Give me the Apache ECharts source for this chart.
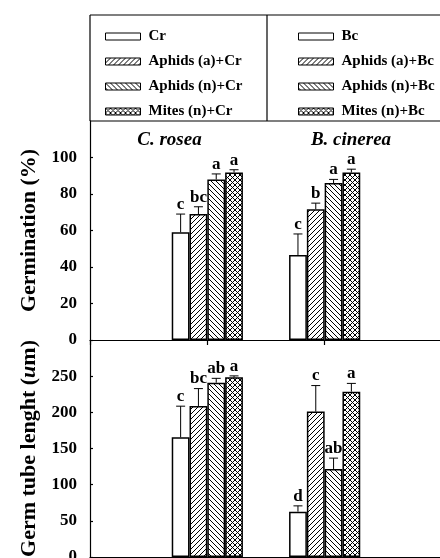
<!DOCTYPE html>
<html>
<head>
<meta charset="utf-8">
<script src="https://cdn.jsdelivr.net/npm/echarts@6/dist/echarts.min.js"></script>
<style>html,body{margin:0;padding:0;background:#fff;}#chart{width:440px;height:558px;}</style>
</head>
<body>
<div id="chart"></div>
<script>
// ---------- DATA ----------
const categories = ['', 'C. rosea', 'B. cinerea', ''];
const treatmentsCr = ['Cr', 'Aphids (a)+Cr', 'Aphids (n)+Cr', 'Mites (n)+Cr'];
const treatmentsBc = ['Bc', 'Aphids (a)+Bc', 'Aphids (n)+Bc', 'Mites (n)+Bc'];

const germCr = [59, 69, 88, 91.8];
const germCrErr = [10, 4, 3, 1.5];
const germCrLetters = ['c', 'bc', 'a', 'a'];
const germBc = [46.6, 71.7, 86, 91.8];
const germBcErr = [11.5, 3.3, 2, 1.8];
const germBcLetters = ['c', 'b', 'a', 'a'];

const tubeCr = [165.5, 208.8, 241, 248.4];
const tubeCrErr = [43, 24, 6, 2];
const tubeCrLetters = ['c', 'bc', 'ab', 'a'];
const tubeBc = [62.7, 201, 121.7, 228.5];
const tubeBcErr = [8, 36, 15, 11.5];
const tubeBcLetters = ['d', 'c', 'ab', 'a'];

// ---------- STYLE ----------
const FONT = '"Liberation Serif", "Times New Roman", serif';
const BAR_W = 17.8;

function makePattern(kind) {
  if (kind === 'none') return '#fff';
  const s = 5;
  const c = document.createElement('canvas');
  c.width = s; c.height = s;
  const g = c.getContext('2d');
  g.fillStyle = '#fff';
  g.fillRect(0, 0, s, s);
  g.fillStyle = '#000';
  for (let i = 0; i < s; i++) {
    if (kind === 'fwd' || kind === 'cross') g.fillRect(i, s - 1 - i, 1, 1);
    if (kind === 'back' || kind === 'cross') g.fillRect(i, i, 1, 1);
  }
  return { image: c, repeat: 'repeat' };
}
const fills = [makePattern('none'), makePattern('fwd'), makePattern('back'), makePattern('cross')];

function barSeries(name, slot, catIdx, value, panel) {
  return {
    type: 'bar', name: name,
    xAxisIndex: panel, yAxisIndex: panel,
    stack: 'p' + panel + 's' + slot,
    barWidth: BAR_W, barGap: '0%',
    itemStyle: { color: fills[slot], borderColor: '#000', borderWidth: 1.5 },
    emphasis: { disabled: true },
    data: categories.map((c, i) => (i === catIdx ? value : '-')),
    z: 2
  };
}

function errSeries(panel, groups) {
  const data = [];
  const letters = [];
  groups.forEach(gr => {
    gr.vals.forEach((v, s) => {
      data.push([gr.cat, s, v, gr.err[s]]);
      letters.push(gr.letters[s]);
    });
  });
  return {
    type: 'custom', xAxisIndex: panel, yAxisIndex: panel, z: 5,
    silent: true,
    data: data,
    renderItem: function (params, api) {
      const cat = api.value(0), slot = api.value(1), v = api.value(2), e = api.value(3);
      const p0 = api.coord([cat, v]);
      const p1 = api.coord([cat, v + e]);
      const x = p0[0] + (slot - 1.5) * BAR_W;
      return {
        type: 'group',
        children: [
          { type: 'line', shape: { x1: x, y1: p0[1], x2: x, y2: p1[1] }, style: { stroke: '#000', lineWidth: 1 } },
          { type: 'line', shape: { x1: x - 4.5, y1: p1[1], x2: x + 4.5, y2: p1[1] }, style: { stroke: '#000', lineWidth: 1 } },
          { type: 'text', style: { x: x, y: p1[1] - 1, text: letters[params.dataIndex], fill: '#000',
              font: 'bold 17px ' + FONT, align: 'center', verticalAlign: 'bottom' } }
        ]
      };
    }
  };
}

const series = [];
treatmentsCr.forEach((n, s) => series.push(barSeries(n, s, 1, germCr[s], 0)));
treatmentsBc.forEach((n, s) => series.push(barSeries(n, s, 2, germBc[s], 0)));
treatmentsCr.forEach((n, s) => series.push(barSeries(n, s, 1, tubeCr[s], 1)));
treatmentsBc.forEach((n, s) => series.push(barSeries(n, s, 2, tubeBc[s], 1)));
series.push(errSeries(0, [
  { cat: 1, vals: germCr, err: germCrErr, letters: germCrLetters },
  { cat: 2, vals: germBc, err: germBcErr, letters: germBcLetters }
]));
series.push(errSeries(1, [
  { cat: 1, vals: tubeCr, err: tubeCrErr, letters: tubeCrLetters },
  { cat: 2, vals: tubeBc, err: tubeBcErr, letters: tubeBcLetters }
]));

const axisLineStyle = { color: '#000', width: 1.2 };
function xAxis(idx) {
  return {
    type: 'category', gridIndex: idx, data: categories, boundaryGap: false,
    axisLine: { show: true, lineStyle: axisLineStyle },
    axisTick: { show: true, length: 5, lineStyle: axisLineStyle },
    axisLabel: { show: false }, splitLine: { show: false }
  };
}
function yAxis(idx, max, interval, name, rich) {
  const o = {
    type: 'value', gridIndex: idx, min: 0, max: max, interval: interval,
    axisLine: { show: true, lineStyle: axisLineStyle },
    axisTick: { show: true, inside: true, length: 3, lineStyle: axisLineStyle },
    axisLabel: { margin: 13, color: '#000', fontSize: 17, fontWeight: 'bold', fontFamily: FONT, showMaxLabel: false },
    splitLine: { show: false },
    name: name, nameLocation: 'middle', nameGap: 48,
    nameTextStyle: { color: '#000', fontSize: 22, fontWeight: 'bold', fontFamily: FONT }
  };
  if (rich) o.nameTextStyle.rich = rich;
  return o;
}

const legendBase = {
  orient: 'vertical', top: 24, itemWidth: 35, itemHeight: 7, itemGap: 10,
  icon: 'rect', selectedMode: false,
  itemStyle: { borderColor: '#000', borderWidth: 1 },
  textStyle: { color: '#000', fontSize: 15, fontWeight: 'bold', fontFamily: FONT, lineHeight: 15, padding: [0, 0, 0, 3] }
};

const option = {
  animation: false,
  backgroundColor: '#fff',
  grid: [
    { left: 90, top: 121, width: 352, height: 219, outerBoundsMode: 'none', containLabel: false },
    { left: 90, top: 340, width: 352, height: 217, outerBoundsMode: 'none', containLabel: false }
  ],
  xAxis: [xAxis(0), xAxis(1)],
  yAxis: [
    yAxis(0, 120, 20, 'Germination (%)'),
    yAxis(1, 300, 50, '{n|Germ tube lenght (}{i|u}{n|m)}', {
      n: { color: '#000', fontSize: 22, fontWeight: 'bold', fontFamily: FONT },
      i: { color: '#000', fontSize: 22, fontWeight: 'bold', fontStyle: 'italic', fontFamily: FONT }
    })
  ],
  legend: [
    Object.assign({}, legendBase, { left: 100, data: treatmentsCr }),
    Object.assign({}, legendBase, { left: 293, data: treatmentsBc })
  ],
  graphic: [
    { type: 'line', shape: { x1: 90, y1: 15, x2: 440, y2: 15 }, style: { stroke: '#000', lineWidth: 1.2 } },
    { type: 'line', shape: { x1: 90, y1: 15, x2: 90, y2: 121 }, style: { stroke: '#000', lineWidth: 1.2 } },
    { type: 'line', shape: { x1: 267, y1: 15, x2: 267, y2: 121 }, style: { stroke: '#000', lineWidth: 1.2 } },
    { type: 'line', shape: { x1: 90, y1: 121, x2: 440, y2: 121 }, style: { stroke: '#000', lineWidth: 1.2 } },
    { type: 'text', x: 169.5, y: 140, style: { text: 'C. rosea', fill: '#000', font: 'italic bold 19px ' + FONT, align: 'center', verticalAlign: 'middle', textAlign: 'center', textVerticalAlign: 'middle' } },
    { type: 'text', x: 351, y: 140, style: { text: 'B. cinerea', fill: '#000', font: 'italic bold 19px ' + FONT, align: 'center', verticalAlign: 'middle', textAlign: 'center', textVerticalAlign: 'middle' } }
  ],
  series: series
};

const chart = echarts.init(document.getElementById('chart'), null, { renderer: 'canvas' });
chart.setOption(option);
</script>
</body>
</html>
